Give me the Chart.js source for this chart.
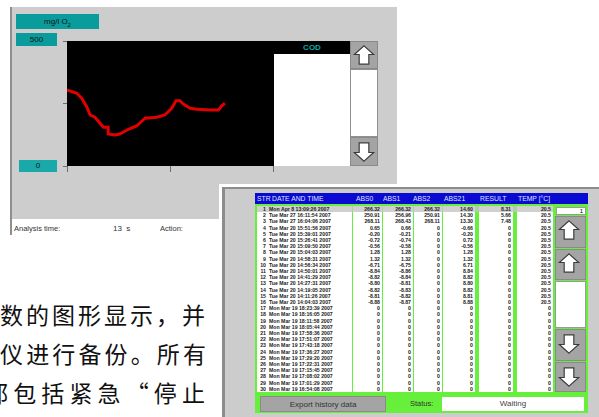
<!DOCTYPE html>
<html>
<head>
<meta charset="utf-8">
<script src="https://cdn.jsdelivr.net/npm/chart.js@4/dist/chart.umd.min.js"></script>
<style>
    html, body { margin: 0; padding: 0; background: #fff; }
    body { width: 599px; height: 417px; overflow: hidden; position: relative;
           font-family: "Liberation Sans", Arial, sans-serif; }
    .a { position: absolute; box-sizing: border-box; }
    .teal { background: #0a9c9c; color: #111; font-size: 8px; text-align: center; }
    .btn { background: #a4a4a4; border: 1px solid #8a8a8a; }
    .cjk { font-family: "Noto Sans CJK SC", sans-serif; font-size: 23px; color: #111;
           text-align: justify; text-align-last: justify; white-space: nowrap; height: 28px; line-height: 28px; }
    .col { background: #fff; overflow: hidden; }
    .cell { position: absolute; font-size: 5.2px; line-height: 6px; font-weight: bold; color: #222; white-space: nowrap; }
    .hdr { position: absolute; top: 1.5px; font-size: 6.8px; color: #dfe6ff; white-space: nowrap; }
</style>
</head>
<body>

<!-- upper window: COD trend -->
<div class="a" style="left:10px;top:7px;width:387px;height:212px;background:#cdcdcd;border-left:2px solid #8f8f8f;"></div>
<div class="a" style="left:10px;top:219px;width:2px;height:16px;background:#8f8f8f;"></div>

<div class="a teal" style="left:16px;top:14px;width:83px;height:15px;line-height:15px;">mg/l O<sub style="font-size:6px;">2</sub></div>
<div class="a teal" style="left:16px;top:33px;width:41px;height:13px;line-height:13px;" id="yMaxLabel"></div>
<div class="a teal" style="left:19px;top:160px;width:38px;height:12px;line-height:12px;background:#1aa9a9;" id="yMinLabel"></div>

<div class="a" style="left:67px;top:41px;width:207px;height:125px;background:#000;"></div>
<div class="a" style="left:274px;top:41px;width:76px;height:13px;background:#000;color:#0aa8a8;font-size:8px;font-weight:bold;text-align:center;line-height:13px;" id="seriesName"></div>
<div class="a" style="left:274px;top:54px;width:76px;height:112px;background:#fff;"></div>

<div class="a btn" style="left:350px;top:41px;width:28px;height:28px;" id="up0"></div>
<div class="a" style="left:350px;top:69px;width:28px;height:68px;background:#fff;border:1px solid #909090;"></div>
<div class="a btn" style="left:350px;top:137px;width:28px;height:29px;" id="dn0"></div>

<div class="a" style="left:57px;top:35px;width:230px;height:145px;">
    <canvas id="codChart"></canvas>
</div>

<div class="a" style="left:14px;top:224px;font-size:7.5px;color:#333;">Analysis time:</div>
<div class="a" style="left:113px;top:224px;font-size:8px;color:#333;">13 &nbsp;s</div>
<div class="a" style="left:160px;top:224px;font-size:7.5px;color:#333;">Action:</div>

<!-- chinese body text -->
<div class="a cjk" style="left:0px;top:300px;width:205px;">数的图形显示，并</div>
<div class="a cjk" style="left:0px;top:339px;width:206px;">仪进行备份。所有</div>
<div class="a cjk" style="left:-15px;top:378px;width:220px;">都包括紧急“停止</div>

<!-- lower window: history table -->
<div class="a" style="left:219px;top:184px;width:380px;height:233px;background:#fff;"></div>
<div class="a" style="left:222px;top:187px;width:377px;height:230px;background:#cccccc;border-left:3px solid #8c8c8c;border-top:2px solid #8c8c8c;"></div>
<div class="a" style="left:255px;top:193px;width:333px;height:220px;background:#66f03c;" id="table"></div>

<script>
// --- COD trend (hours since start, mg/l O2) ---
const TIME_H = [0, 2.3, 3.4, 4.6, 5.4, 6.5, 7.7, 8.5, 9.6, 9.6, 11.2, 12.3, 14.3, 16.2, 18.2,
                20.9, 22.8, 24.4, 25.4, 26.3, 27.1, 28.7, 30.2, 33.3, 35.3, 36.0, 36.8];
const COD = [304, 291, 271, 237, 204, 195, 171, 155, 155, 128, 124, 128, 147, 160, 191,
             195, 204, 231, 261, 261, 248, 231, 227, 224, 224, 240, 251];
const Y_TICKS = [0, 250, 500];
const X_TICKS = [0, 24, 48];
const SERIES_NAME = "COD";

// --- history table ---
const HEADERS = ["STR", "DATE AND TIME", "ABS0", "ABS1", "ABS2", "ABS21", "RESULT", "TEMP [°C]"];
const DATES = [
    "Mon Apr 8 13:09:26 2007", "Tue Mar 27 16:11:54 2007", "Tue Mar 27 16:04:06 2007",
    "Tue Mar 20 15:51:56 2007", "Tue Mar 20 15:39:01 2007", "Tue Mar 20 15:26:41 2007",
    "Tue Mar 20 15:09:50 2007", "Tue Mar 20 15:04:03 2007", "Tue Mar 20 14:58:31 2007",
    "Tue Mar 20 14:56:34 2007", "Tue Mar 20 14:50:01 2007", "Tue Mar 20 14:41:29 2007",
    "Tue Mar 20 14:27:31 2007", "Tue Mar 20 14:19:05 2007", "Tue Mar 20 14:11:26 2007",
    "Tue Mar 20 14:04:03 2007", "Mon Mar 19 18:23:39 2007", "Mon Mar 19 18:16:05 2007",
    "Mon Mar 19 18:11:58 2007", "Mon Mar 19 18:05:44 2007", "Mon Mar 19 17:58:36 2007",
    "Mon Mar 19 17:51:07 2007", "Mon Mar 19 17:43:18 2007", "Mon Mar 19 17:36:27 2007",
    "Mon Mar 19 17:29:20 2007", "Mon Mar 19 17:22:31 2007", "Mon Mar 19 17:15:45 2007",
    "Mon Mar 19 17:08:02 2007", "Mon Mar 19 17:01:29 2007", "Mon Mar 19 16:54:08 2007"
];
const ABS0 = ["266.32", "250.91", "268.11", "0.65", "-0.20", "-0.72", "-0.56", "1.28", "1.32", "-6.71",
              "-8.84", "-8.82", "-8.80", "-8.82", "-8.81", "-8.88", "0", "0", "0", "0",
              "0", "0", "0", "0", "0", "0", "0", "0", "0", "0"];
const ABS1 = ["266.32", "256.96", "268.43", "0.66", "-0.21", "-0.74", "-0.58", "1.28", "1.32", "-6.75",
              "-8.86", "-8.84", "-8.81", "-8.83", "-8.82", "-8.87", "0", "0", "0", "0",
              "0", "0", "0", "0", "0", "0", "0", "0", "0", "0"];
const ABS2 = ["266.32", "250.91", "268.11", "0", "0", "0", "0", "0", "0", "0",
              "0", "0", "0", "0", "0", "0", "0", "0", "0", "0",
              "0", "0", "0", "0", "0", "0", "0", "0", "0", "0"];
const ABS21 = ["14.60", "14.30", "13.30", "-0.66", "-0.20", "0.72", "-0.56", "1.28", "1.32", "6.71",
               "8.84", "8.82", "8.80", "8.82", "8.81", "8.88", "0", "0", "0", "0",
               "0", "0", "0", "0", "0", "0", "0", "0", "0", "0"];
const RESULT = ["8.31", "5.66", "7.48", "0", "0", "0", "0", "0", "0", "0",
                "0", "0", "0", "0", "0", "0", "0", "0", "0", "0",
                "0", "0", "0", "0", "0", "0", "0", "0", "0", "0"];
const TEMP = ["20.5", "20.5", "20.5", "20.5", "20.5", "20.5", "20.5", "20.5", "20.5", "20.5",
              "20.5", "20.5", "20.5", "20.5", "20.5", "20.5", "0", "0", "0", "0",
              "0", "0", "0", "0", "0", "0", "0", "0", "0", "0"];


// --- small helpers ---

function arrowSvg(dir) {
    const pts = dir === "up"
        ? "13,4 23,13 18,13 18,23 8,23 8,13 3,13"
        : "13,24 23,15 18,15 18,5 8,5 8,15 3,15";
    return '<svg width="26" height="27" viewBox="0 0 26 28"><polygon points="' + pts +
        '" fill="#fff" stroke="#3a3a3a" stroke-width="1.2"/></svg>';
}

function el(parent, css, html, cls) {
    const d = document.createElement("div");
    d.className = cls || "a";
    d.style.cssText = css;
    if (html != null) d.innerHTML = html;
    parent.appendChild(d);
    return d;
}

document.getElementById("yMaxLabel").textContent = Y_TICKS[Y_TICKS.length - 1];
document.getElementById("yMinLabel").textContent = Y_TICKS[0];
document.getElementById("seriesName").textContent = SERIES_NAME;
document.getElementById("up0").innerHTML = arrowSvg("up");
document.getElementById("dn0").innerHTML = arrowSvg("down");


// --- chart ---
const ctx = document.getElementById("codChart").getContext("2d");
new Chart(ctx, {
    type: "line",
    data: {
        datasets: [{
            label: SERIES_NAME,
            data: TIME_H.map((t, i) => ({ x: t, y: COD[i] })),
            borderColor: "#e10000",
            borderWidth: 3,
            pointRadius: 0,
            tension: 0,
        }],
    },
    options: {
        responsive: true,
        maintainAspectRatio: false,
        animation: false,
        layout: { padding: { left: 6, top: 6, right: 14, bottom: 8 } },
        plugins: { legend: { display: false }, tooltip: { enabled: false } },
        scales: {
            x: {
                type: "linear",
                min: X_TICKS[0],
                max: X_TICKS[X_TICKS.length - 1],
                afterBuildTicks: s => { s.ticks = X_TICKS.map(v => ({ value: v })); },
                afterFit: s => { s.height = 6; },
                ticks: { display: false },
                border: { display: false },
                grid: { drawOnChartArea: false, tickLength: 6, color: "#6e6e6e", lineWidth: 1 },
            },
            y: {
                min: Y_TICKS[0],
                max: Y_TICKS[Y_TICKS.length - 1],
                afterBuildTicks: s => { s.ticks = Y_TICKS.map(v => ({ value: v })); },
                afterFit: s => { s.width = 4; },
                ticks: { display: false },
                border: { display: false },
                grid: { drawOnChartArea: false, tickLength: 4, color: "#6e6e6e", lineWidth: 1 },
            },
        },
    },
});


// --- history table ---
const table = document.getElementById("table");
// header bar (table origin is x=255, y=193)
const hdr = el(table, "left:0;top:0;width:333px;height:11px;background:#0a0ad2;");
const HDR_X = [2, 17, 101, 128, 158, 189, 225, 263];
HEADERS.forEach((h, i) => el(hdr, "left:" + HDR_X[i] + "px;", h, "hdr"));

const COLS = [
    { x: 2, w: 95 }, { x: 98, w: 29 }, { x: 128, w: 30 }, { x: 159, w: 28 },
    { x: 188, w: 32 }, { x: 224, w: 34 }, { x: 262, w: 36 },
];
const ROW_Y = 13, ROW_H = 6.2;
COLS.forEach(c => el(table, "left:" + c.x + "px;top:" + ROW_Y + "px;width:" + c.w + "px;height:186px;", null, "a col"));
// selected first row
el(table, "left:2px;top:" + ROW_Y + "px;width:296px;height:6px;background:#c4c4c4;opacity:0.8;");

const colData = [ABS0, ABS1, ABS2, ABS21, RESULT, TEMP];
DATES.forEach((d, r) => {
    const y = ROW_Y + r * ROW_H;
    el(table, "left:2px;top:" + y + "px;width:9px;text-align:right;", String(r + 1), "cell");
    el(table, "left:14px;top:" + y + "px;", d, "cell");
    colData.forEach((arr, ci) => {
        const c = COLS[ci + 1];
        const right = 333 - (c.x + c.w) + 2;
        el(table, "right:" + right + "px;top:" + y + "px;text-align:right;", arr[r], "cell");
    });
});

// right-hand buttons (x 555..585)
el(table, "left:301px;top:14px;width:30px;height:8px;background:#fff;border:1px solid #9a9a9a;font-size:6px;text-align:right;padding-right:2px;line-height:6px;", "1");
el(table, "left:300px;top:23px;width:31px;height:32px;", arrowSvg("up"), "a btn");
el(table, "left:300px;top:56px;width:31px;height:31px;", arrowSvg("up"), "a btn");
el(table, "left:300px;top:88px;width:31px;height:47px;background:#fff;border:1px solid #9a9a9a;");
el(table, "left:300px;top:136px;width:31px;height:32px;", arrowSvg("down"), "a btn");
el(table, "left:300px;top:169px;width:31px;height:30px;", arrowSvg("down"), "a btn");

// bottom status bar
el(table, "left:5px;top:203px;width:126px;height:16px;font-size:8px;color:#333;text-align:center;line-height:15px;",
   "Export history data", "a btn");
el(table, "left:155px;top:206px;font-size:7.5px;color:#333;", "Status:");
el(table, "left:187px;top:204px;width:142px;height:14px;background:#fff;font-size:8px;color:#444;text-align:center;line-height:14px;",
   "Waiting");
</script>
</body>
</html>
